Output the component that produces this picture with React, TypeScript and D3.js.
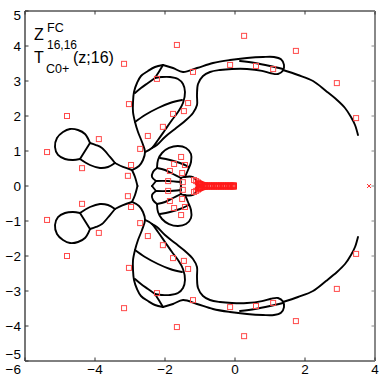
import React from "react";
import * as d3 from "d3";

// ---- data (upper half; the plot is symmetric about the real axis) ----
const xTicks = [-6, -4, -2, 0, 2, 4];
const yTicks = [-5, -4, -3, -2, -1, 0, 1, 2, 3, 4, 5];

type P = [number, number];

const arc: P[] = [
  [1.371, 3.314], [1.8, 3.171], [2.229, 3.0], [2.6, 2.714], [2.914, 2.457],
  [3.143, 2.229], [3.314, 1.971], [3.429, 1.743], [3.514, 1.457],
];

const band: P[] = [
  [-2.057, 3.457], [-1.771, 3.371], [-1.486, 3.257], [-1.086, 3.371], [-0.629, 3.514],
  [-0.143, 3.6], [0.343, 3.657], [0.8, 3.686], [1.114, 3.686], [1.314, 3.62],
  [1.4, 3.46], [1.371, 3.3], [1.229, 3.2], [1.029, 3.22], [0.771, 3.29],
  [0.343, 3.343], [-0.086, 3.343], [-0.429, 3.314], [-0.714, 3.257], [-0.914, 3.143],
  [-1.057, 2.914], [-1.086, 2.6], [-1.086, 2.314], [-1.2, 2.086], [-1.429, 1.857],
  [-1.714, 1.629], [-2.0, 1.4], [-2.229, 1.171], [-2.371, 1.086],
];

const tongueInner: P[] = [[0.143, 3.571], [0.571, 3.514], [1.0, 3.429], [1.371, 3.343]];

const leafLeft: P[] = [
  [-2.057, 3.457], [-2.286, 3.4], [-2.486, 3.286], [-2.686, 3.143], [-2.8, 2.943],
  [-2.886, 2.686], [-2.914, 2.4], [-2.914, 2.114], [-2.857, 1.829], [-2.771, 1.543],
  [-2.657, 1.257], [-2.571, 0.971], [-2.629, 0.743], [-2.743, 0.571], [-2.943, 0.457],
];

const leafRight: P[] = [
  [-2.286, 3.086], [-2.086, 3.114], [-1.857, 3.114], [-1.629, 3.057], [-1.486, 2.914],
  [-1.429, 2.686], [-1.486, 2.371], [-1.629, 2.114], [-1.8, 1.886], [-2.0, 1.6],
  [-2.2, 1.314], [-2.371, 1.086], [-2.571, 0.971],
];

const leafDiv1: P[] = [[-2.057, 3.457], [-2.143, 3.314], [-2.286, 3.086]];
const leafDiv2: P[] = [[-2.286, 3.086], [-2.486, 2.943], [-2.686, 2.8], [-2.857, 2.657]];
const leafDiv3: P[] = [[-2.857, 1.829], [-2.571, 2.029], [-2.2, 2.229], [-1.857, 2.371], [-1.514, 2.457]];

const lobeTop: P[] = [[-4.143, 1.229], [-3.971, 1.171], [-3.8, 1.086], [-3.571, 0.829], [-3.429, 0.657]];
const lobeBottom: P[] = [[-4.429, 0.771], [-4.143, 0.6], [-3.857, 0.514], [-3.629, 0.543], [-3.429, 0.657]];
const link: P[] = [[-3.429, 0.657], [-3.2, 0.543], [-2.943, 0.457]];
const loopLeft: P[] = [
  [-4.143, 1.229], [-4.286, 1.486], [-4.486, 1.6], [-4.714, 1.629], [-4.914, 1.543],
  [-5.086, 1.371], [-5.143, 1.114], [-5.057, 0.886], [-4.857, 0.771], [-4.629, 0.743], [-4.429, 0.771],
];
const loopDiv: P[] = [[-4.429, 0.771], [-4.286, 1.0], [-4.143, 1.229]];
const axisCross: P[] = [[-2.943, 0.457], [-2.857, 0.257], [-2.786, 0]];

const box: P[] = [[-1.543, 0], [-1.543, 0.229], [-1.457, 0.257], [-1.2, 0.257], [-1.114, 0.171], [-1.086, 0]];
const fanTop: P[] = [
  [-1.429, 0.257], [-1.343, 0.457], [-1.257, 0.686], [-1.257, 0.914], [-1.4, 1.086],
  [-1.629, 1.143], [-1.886, 1.086], [-2.086, 0.943], [-2.2, 0.743], [-2.229, 0.514],
];
const fanB: P[] = [[-2.229, 0.514], [-2.343, 0.4], [-2.371, 0.257], [-2.257, 0.143]];
const fanA: P[] = [[-2.257, 0.143], [-2.371, 0]];
const fanDiv1: P[] = [[-2.229, 0.514], [-2.0, 0.457], [-1.771, 0.343], [-1.543, 0.229]];
const fanDiv2: P[] = [[-2.257, 0.143], [-1.914, 0.143], [-1.543, 0.114]];
const fanDiv3: P[] = [[-2.143, 0.8], [-1.857, 0.743], [-1.571, 0.657], [-1.314, 0.543]];

const curves: P[][] = [
  arc, band, tongueInner, leafLeft, leafRight, leafDiv1, leafDiv2, leafDiv3,
  lobeTop, lobeBottom, link, loopLeft, loopDiv, axisCross,
  box, fanTop, fanB, fanA, fanDiv1, fanDiv2, fanDiv3,
];

// zeros (upper half)
const zeros: P[] = [
  [-5.37, 0.97], [-4.8, 2.0], [-4.37, 0.51], [-3.89, 1.34], [-3.17, 3.49], [-3.03, 2.34],
  [-2.97, 0.6], [-3.06, 0.29], [-2.71, 1.06], [-2.49, 1.43], [-2.23, 3.06], [-2.06, 1.69],
  [-1.77, 2.06], [-1.66, 4.03], [-1.46, 2.14], [-1.34, 2.37], [-1.2, 3.26], [-1.54, 0.83],
  [-1.74, 0.63], [-1.43, 0.6], [-1.86, 0.43], [-1.51, 0.37], [-1.91, 0.14], [-1.49, 0.11],
  [-1.17, 0.17], [-1.11, 0.14], [0.26, 4.29], [1.74, 3.86], [-0.14, 3.46], [0.6, 3.43],
  [1.09, 3.34], [2.91, 2.94], [3.46, 1.94],
];
// dense zeros crowding the real axis
const axisZeros: P[] = [
  [-1.06, 0.1], [-1.03, 0.075], [-1.0, 0.06], [-0.97, 0.045], [-0.94, 0.035], [-0.9, 0.025],
  [-0.85, 0.02], [-0.8, 0.015], [-0.75, 0.015], [-0.7, 0.015], [-0.65, 0.015], [-0.6, 0.015],
  [-0.55, 0.015], [-0.5, 0.015], [-0.45, 0.015], [-0.4, 0.015], [-0.35, 0.015], [-0.3, 0.015],
  [-0.25, 0.015], [-0.2, 0.015], [-0.15, 0.015], [-0.1, 0.015], [-0.05, 0.015], [-0.03, 0.015],
];
const crossPoint: P = [3.83, 0];

const mirror = (pts: P[]): P[] => pts.map(([x, y]) => [x, -y] as P);

export default function App() {
  const width = 383;
  const height = 383;
  const margin = { left: 25, right: 8, top: 11, bottom: 22 };

  const xScale = d3.scaleLinear().domain([-6, 4]).range([margin.left, width - margin.right]);
  const yScale = d3.scaleLinear().domain([-5, 5]).range([height - margin.bottom, margin.top]);

  const line = d3
    .line<P>()
    .x((d) => xScale(d[0]))
    .y((d) => yScale(d[1]))
    .curve(d3.curveCatmullRom.alpha(0.5));

  const allCurves = [...curves, ...curves.map(mirror)];
  const allZeros = [...zeros, ...mirror(zeros)];
  const bandZeros = [...axisZeros, ...mirror(axisZeros)];
  const sq = 5;

  const x0 = xScale(-6);
  const x1 = xScale(4);
  const y0 = yScale(-5);
  const y1 = yScale(5);
  const font = "'Liberation Sans', Arial, Helvetica, sans-serif";

  return (
    <svg width={width} height={height} style={{ position: "absolute", left: 0, top: 0, background: "#fff" }} fontFamily={font}>
      <rect x={0} y={0} width={width} height={height} fill="#fff" />

      {/* curves */}
      <g fill="none" stroke="#000" strokeWidth={1.9} strokeLinejoin="round" strokeLinecap="round">
        {allCurves.map((c, i) => (
          <path key={i} d={line(c) || ""} />
        ))}
      </g>

      {/* zeros */}
      <g fill="none" stroke="#ff4a4a" strokeWidth={1}>
        {allZeros.map((d, i) => (
          <rect key={i} x={xScale(d[0]) - sq / 2} y={yScale(d[1]) - sq / 2} width={sq} height={sq} />
        ))}
      </g>
      <g fill="none" stroke="#ff1a1a" strokeWidth={1}>
        {bandZeros.map((d, i) => (
          <rect key={i} x={xScale(d[0]) - sq / 2} y={yScale(d[1]) - sq / 2} width={sq} height={sq} />
        ))}
      </g>
      <g stroke="#ff3030" strokeWidth={1}>
        <line x1={xScale(crossPoint[0]) - 2} x2={xScale(crossPoint[0]) + 2} y1={yScale(crossPoint[1]) - 2} y2={yScale(crossPoint[1]) + 2} />
        <line x1={xScale(crossPoint[0]) - 2} x2={xScale(crossPoint[0]) + 2} y1={yScale(crossPoint[1]) + 2} y2={yScale(crossPoint[1]) - 2} />
      </g>

      {/* frame */}
      <line x1={x0} x2={x1} y1={y1} y2={y1} stroke="#000" strokeWidth={1} />
      <line x1={x0} x2={x1} y1={y0} y2={y0} stroke="#000" strokeWidth={1} />
      <line x1={x0} x2={x0} y1={y1} y2={y0} stroke="#777" strokeWidth={2} />
      <line x1={x1} x2={x1} y1={y1} y2={y0} stroke="#888" strokeWidth={2} />

      {/* ticks */}
      {xTicks.map((t) => (
        <g key={"x" + t}>
          <line x1={xScale(t)} x2={xScale(t)} y1={y0} y2={y0 - 3.5} stroke="#333" />
          <line x1={xScale(t)} x2={xScale(t)} y1={y1} y2={y1 + 3.5} stroke="#333" />
          <text
            x={t === -6 ? x0 - 4 : xScale(t)}
            y={y0 + 13}
            textAnchor={t === -6 ? "end" : "middle"}
            fontSize={13.5}
            fill="#000"
          >
            {t < 0 ? "\u2212" + Math.abs(t) : t}
          </text>
        </g>
      ))}
      {yTicks.map((t) => (
        <g key={"y" + t}>
          <line x1={x0} x2={x0 + 3.5} y1={yScale(t)} y2={yScale(t)} stroke="#333" />
          <line x1={x1} x2={x1 - 3.5} y1={yScale(t)} y2={yScale(t)} stroke="#888" />
          <text
            x={x0 - 4}
            y={yScale(t) + (t === 5 ? 4.5 : t === -5 ? -7 : 0)}
            textAnchor="end"
            dominantBaseline="central"
            fontSize={13.5}
            fill="#000"
          >
            {t < 0 ? "\u2212" + Math.abs(t) : t}
          </text>
        </g>
      ))}

      {/* label */}
      <g fill="#000">
        <text x={34} y={40} fontSize={16}>Z</text>
        <text x={47} y={32} fontSize={12.5}>FC</text>
        <text x={47} y={49} fontSize={12}>16,16</text>
        <text x={34} y={63} fontSize={16}>T</text>
        <text x={46} y={73} fontSize={12.5}>C0+</text>
        <text x={73} y={63} fontSize={16}>(z;16)</text>
      </g>
    </svg>
  );
}
